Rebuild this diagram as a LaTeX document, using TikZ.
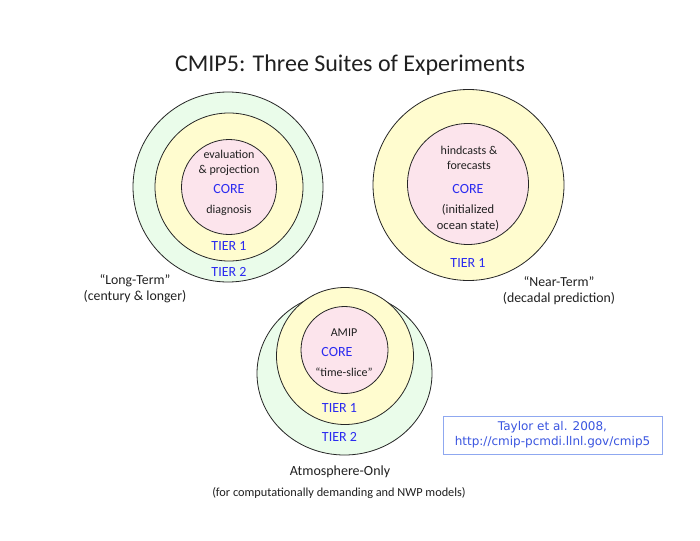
\documentclass[tikz,border=0pt]{standalone}
\usepackage{fontspec}
\setmainfont{Carlito}
\newfontfamily\reffont{DejaVu Sans}
\usetikzlibrary{shapes.geometric}
\definecolor{ringgreen}{HTML}{EAFCEA}
\definecolor{ringyellow}{HTML}{FFFCCF}
\definecolor{ringpink}{HTML}{FCE4EC}
\definecolor{tierblue}{HTML}{2B2BF0}
\definecolor{refborder}{HTML}{8FA8F0}
\definecolor{reftext}{HTML}{3A55E0}
\definecolor{inktext}{HTML}{202020}
\begin{document}
\begin{tikzpicture}[x=1pt,y=-1pt,
  ring/.style={circle, draw=black!85, line width=0.8pt, inner sep=0pt, minimum size=#1},
  oval/.style={ellipse, draw=black!85, line width=0.8pt, inner sep=0pt},
  lbl/.style={font=\fontsize{12}{15}\selectfont, align=center, text=inktext, inner sep=0pt},
  tier/.style={font=\fontsize{14}{16}\selectfont, text=tierblue, inner sep=0pt},
  caption/.style={font=\fontsize{14}{16}\selectfont, align=center, text=inktext, inner sep=0pt},
  refbox/.style={draw=refborder, line width=0.8pt, minimum width=219pt, minimum height=38pt,
    align=center, text=reftext, font=\reffont\fontsize{12}{15}\selectfont, inner sep=0pt}]
\useasboundingbox (0,0) rectangle (700,540);
\fill[white] (0,0) rectangle (700,540);

% title
\node[font=\fontsize{24}{26}\selectfont, text=inktext, inner sep=0pt] (title) at (350,65) {CMIP5: Three Suites of Experiments};

% Long-term
\node[ring=190pt, fill=ringgreen] (ltout) at (228,187) {};
\node[ring=148pt, fill=ringyellow] (ltmid) at (229,187) {};
\node[ring=95pt, fill=ringpink] (ltin) at (229,187) {};
\node[lbl] (lteval) at (229,162.5) {evaluation\\\& projection};
\node[tier] (ltcore) at (229,189) {CORE};
\node[lbl] (ltdiag) at (229,210) {diagnosis};
\node[tier] (ltt1) at (229,246) {TIER 1};
\node[tier] (ltt2) at (229,272) {TIER 2};
\node[caption, font=\fontsize{13.8}{15.5}\selectfont] (ltlab) at (135,288.5) {``Long-Term''\\(century \& longer)};

% Near-term
\node[ring=191pt, fill=ringyellow] (ntout) at (468.5,185) {};
\node[ring=121pt, fill=ringpink] (ntin) at (468,184) {};
\node[lbl] (nthind) at (469,157.5) {hindcasts \&\\forecasts};
\node[tier] (ntcore) at (468,189) {CORE};
\node[lbl, font=\fontsize{12.5}{16}\selectfont] (ntinit) at (468,218) {(initialized\\ocean state)};
\node[tier] (ntt1) at (468,263) {TIER 1};
\node[caption, font=\fontsize{13.8}{15.5}\selectfont] (ntlab) at (559,290.5) {``Near-Term''\\(decadal prediction)};

% Atmosphere-only
\node[oval, minimum width=175pt, minimum height=163pt, fill=ringgreen] (atout) at (344.5,373.5) {};
\node[ring=137pt, fill=ringyellow] (atmid) at (345,356) {};
\node[ring=87pt, fill=ringpink] (atin) at (344.5,350) {};
\node[lbl] (atamip) at (344,333) {AMIP};
\node[tier] (atcore) at (337,352) {CORE};
\node[lbl] (atslice) at (344,372) {``time-slice''};
\node[tier] (att1) at (339.5,408) {TIER 1};
\node[tier] (att2) at (339.5,437) {TIER 2};
\node[caption] (atlab) at (340,472) {Atmosphere-Only};
\node[caption, font=\fontsize{12.3}{14}\selectfont] (atnote) at (339,493) {(for computationally demanding and NWP models)};

% reference box
\node[refbox] (ref) at (552.5,435) {Taylor et al. 2008,\\http://cmip-pcmdi.llnl.gov/cmip5};
\end{tikzpicture}
\end{document}
